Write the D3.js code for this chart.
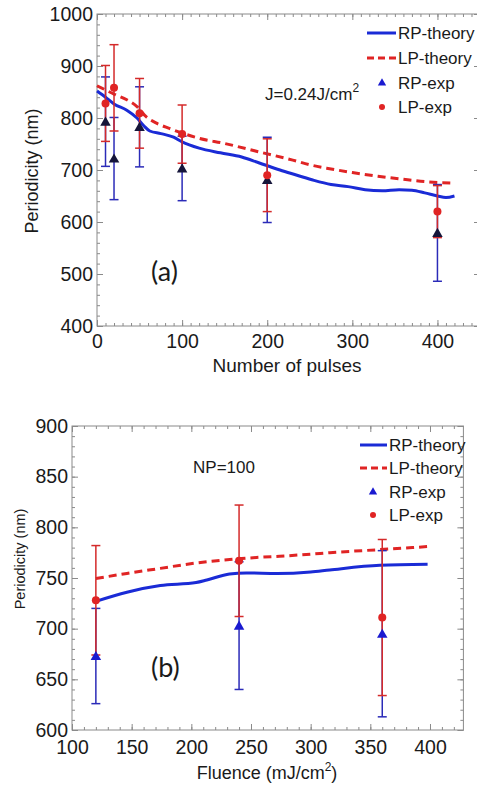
<!DOCTYPE html>
<html>
<head>
<meta charset="utf-8">
<script src="https://cdn.jsdelivr.net/npm/d3@7"></script>
<style>
  html, body { margin: 0; padding: 0; background: #fff; }
  svg { display: block; }
  text { font-family: "Liberation Sans", Arial, sans-serif; fill: #1a1a1a; }
</style>
</head>
<body>
<svg id="chart" width="477" height="786"></svg>
<script>
// ---------- Panel (a) data ----------
const aTickX = [0, 100, 200, 300, 400];
const aTickY = [400, 500, 600, 700, 800, 900, 1000];
const aRpTheoryX = [0, 10, 20, 35, 47, 55, 62, 75, 90, 100, 120, 145, 170, 190, 215, 235, 255, 275, 295, 315, 335, 355, 370, 385, 400, 410, 420];
const aRpTheoryY = [852, 840, 827, 815, 800, 785, 775, 770, 763, 754, 742, 733, 725, 714, 700, 690, 680, 672, 668, 662, 660, 662, 661, 656, 650, 647, 650];
const aLpTheoryX = [0, 10, 20, 35, 47, 58, 70, 85, 100, 120, 150, 190, 230, 250, 275, 300, 330, 360, 390, 420];
const aLpTheoryY = [862, 854, 846, 835, 822, 802, 790, 780, 771, 761, 751, 735, 719, 710, 702, 695, 688, 682, 677, 675];
const aPulses = [10, 20, 50, 100, 200, 400];
const aRpExp = [793, 722, 783, 703, 681, 579];
const aRpErr = [86, 79, 77, 62, 82, 93];
const aLpExp = [828, 858, 809, 769, 690, 620];
const aLpErr = [73, 83, 67, 56, 70, 50];

// ---------- Panel (b) data ----------
const bTickX = [100, 150, 200, 250, 300, 350, 400];
const bTickY = [600, 650, 700, 750, 800, 850, 900];
const bRpTheoryX = [120, 146, 174, 204, 213, 232, 246, 272, 300, 316, 358, 398];
const bRpTheoryY = [727, 736, 742.5, 745.5, 748, 754, 755, 754.5, 756, 758, 762.5, 763.5];
const bLpTheoryX = [120, 146, 174, 202, 230, 258, 274, 300, 316, 358, 398];
const bLpTheoryY = [749.5, 754.5, 759.5, 764.5, 768, 770.5, 771.5, 773.5, 775, 778, 781];
const bFluence = [120, 240, 360];
const bRpExp = [673, 703, 695];
const bRpErr = [47, 63, 82];
const bLpExp = [728, 767, 711];
const bLpErr = [54, 55, 77];

const legendLabels = ["RP-theory", "LP-theory", "RP-exp", "LP-exp"];

const BLUE = "#1a2bd6", RED = "#e02424", BLUE_BAR = "#2b2bb8", RED_BAR = "#d42a2a";
const AXIS = "#8a8a8a";

const svg = d3.select("#chart");

function panel(o) {
  const g = svg.append("g");
  const x = d3.scaleLinear().domain(o.xDomain).range(o.xRange);
  const y = d3.scaleLinear().domain(o.yDomain).range(o.yRange);
  const x0 = o.xRange[0], x1 = o.xRange[1], y0 = o.yRange[0], y1 = o.yRange[1];

  const style = sel => {
    sel.select(".domain").remove();
    sel.selectAll(".tick line").attr("stroke", AXIS).attr("stroke-width", 1);
    sel.selectAll(".tick text").style("font-size", o.tickFont + "px").attr("fill", "#1a1a1a");
  };
  const minorX = d3.range(o.xDomain[0], o.xDomain[1] + 0.001, o.xMinor);
  const minorY = d3.range(o.yDomain[0], o.yDomain[1] + 0.001, o.yMinor);

  // minor ticks
  g.append("g").attr("transform", `translate(0,${y0})`).call(d3.axisBottom(x).tickValues(minorX).tickSize(-3).tickFormat("")).call(style);
  g.append("g").attr("transform", `translate(0,${y1})`).call(d3.axisTop(x).tickValues(minorX).tickSize(-3).tickFormat("")).call(style);
  g.append("g").attr("transform", `translate(${x0},0)`).call(d3.axisLeft(y).tickValues(minorY).tickSize(-3).tickFormat("")).call(style);
  g.append("g").attr("transform", `translate(${x1},0)`).call(d3.axisRight(y).tickValues(minorY).tickSize(-3).tickFormat("")).call(style);
  // major ticks
  g.append("g").attr("transform", `translate(0,${y0})`).call(d3.axisBottom(x).tickValues(o.xTicks).tickSize(-6).tickPadding(o.xPad).tickFormat(d3.format("d"))).call(style);
  g.append("g").attr("transform", `translate(0,${y1})`).call(d3.axisTop(x).tickValues(o.xTicks).tickSize(-6).tickFormat("")).call(style);
  g.append("g").attr("transform", `translate(${x0},0)`).call(d3.axisLeft(y).tickValues(o.yTicks).tickSize(-6).tickPadding(4).tickFormat(d3.format("d"))).call(style);
  g.append("g").attr("transform", `translate(${x1},0)`).call(d3.axisRight(y).tickValues(o.yTicks).tickSize(-6).tickFormat("")).call(style);

  // frame
  g.append("rect").attr("x", x0).attr("y", y1).attr("width", x1 - x0).attr("height", y0 - y1)
    .attr("fill", "none").attr("stroke", AXIS).attr("stroke-width", 1);

  // theory lines
  const line = d3.line().curve(d3.curveMonotoneX);
  g.append("path").attr("d", line(o.rpX.map((d, i) => [x(d), y(o.rpY[i])])))
    .attr("fill", "none").attr("stroke", BLUE).attr("stroke-width", 3);
  g.append("path").attr("d", line(o.lpX.map((d, i) => [x(d), y(o.lpY[i])])))
    .attr("fill", "none").attr("stroke", RED).attr("stroke-width", 3).attr("stroke-dasharray", "8,5");

  // error bars
  function bars(vals, errs, color) {
    const eb = g.append("g").attr("stroke", color).attr("stroke-width", 1.5).attr("fill", "none");
    o.px.forEach((p, i) => {
      const cx = x(p), top = y(vals[i] + errs[i]), bot = y(vals[i] - errs[i]);
      eb.append("line").attr("x1", cx).attr("x2", cx).attr("y1", top).attr("y2", bot);
      eb.append("line").attr("x1", cx - 4.5).attr("x2", cx + 4.5).attr("y1", top).attr("y2", top);
      eb.append("line").attr("x1", cx - 4.5).attr("x2", cx + 4.5).attr("y1", bot).attr("y2", bot);
    });
  }
  bars(o.rpExp, o.rpErr, BLUE_BAR);
  bars(o.lpExp, o.lpErr, RED_BAR);

  const tri = d3.symbol().type(d3.symbolTriangle).size(48);
  g.append("g").selectAll("path").data(o.px).join("path")
    .attr("d", tri).attr("transform", (d, i) => `translate(${x(d)},${y(o.rpExp[i]) + 1})`)
    .attr("fill", o.triColor);
  g.append("g").selectAll("circle").data(o.px).join("circle")
    .attr("cx", d => x(d)).attr("cy", (d, i) => y(o.lpExp[i])).attr("r", 4)
    .attr("fill", RED);

  // legend
  const lg = g.append("g");
  legendLabels.forEach((lab, i) => {
    const ly = o.legY[i];
    if (i === 0) lg.append("line").attr("x1", o.legX0).attr("x2", o.legX1).attr("y1", ly).attr("y2", ly).attr("stroke", BLUE).attr("stroke-width", 3);
    if (i === 1) lg.append("line").attr("x1", o.legX0).attr("x2", o.legX1).attr("y1", ly).attr("y2", ly).attr("stroke", RED).attr("stroke-width", 3).attr("stroke-dasharray", "7,4");
    if (i === 2) lg.append("path").attr("d", d3.symbol().type(d3.symbolTriangle).size(30)()).attr("transform", `translate(${o.legMark},${ly})`).attr("fill", "#1a1ad0");
    if (i === 3) lg.append("circle").attr("cx", o.legMark).attr("cy", ly).attr("r", 3).attr("fill", RED);
    lg.append("text").attr("x", o.legX1 + 2).attr("y", ly).attr("dy", "0.36em").style("font-size", "17px").text(lab);
  });

  // y title
  g.append("text").attr("transform", `translate(${o.yTitleX},${o.yTitleY}) rotate(-90)`)
    .attr("text-anchor", "middle").attr("dy", "0.36em").style("font-size", o.yTitleFont + "px").text("Periodicity (nm)");

  // panel label
  g.append("text").attr("x", o.labX).attr("y", o.labY).attr("dy", "0.36em")
    .style("font-family", "Lato, 'Open Sans', sans-serif").style("font-size", "27px").attr("fill", "#111").text(o.label);
  return g;
}

// Panel (a)
const ga = panel({
  xDomain: [0, 450], xRange: [97, 480], yDomain: [400, 1000], yRange: [326, 14],
  xMinor: 10, yMinor: 20, xTicks: aTickX, yTicks: aTickY, tickFont: 19.5, xPad: 8,
  rpX: aRpTheoryX, rpY: aRpTheoryY, lpX: aLpTheoryX, lpY: aLpTheoryY,
  px: aPulses, rpExp: aRpExp, rpErr: aRpErr, lpExp: aLpExp, lpErr: aLpErr, triColor: "#15153a",
  legY: [33, 58, 83, 107], legX0: 367, legX1: 396, legMark: 382,
  yTitleX: 32, yTitleY: 171, yTitleFont: 18, label: "(a)", labX: 151, labY: 271
});
ga.append("text").attr("x", 287).attr("y", 365).attr("dy", "0.36em").attr("text-anchor", "middle")
  .style("font-size", "19px").text("Number of pulses");
const jt = ga.append("text").attr("x", 265).attr("y", 100).style("font-size", "17px");
jt.append("tspan").text("J=0.24J/cm");
jt.append("tspan").attr("dy", -8).style("font-size", "12px").text("2");

// Panel (b)
const gb = panel({
  xDomain: [100, 428], xRange: [72, 463.4], yDomain: [600, 900], yRange: [730, 426],
  xMinor: 10, yMinor: 10, xTicks: bTickX, yTicks: bTickY, tickFont: 19.5, xPad: 10,
  rpX: bRpTheoryX, rpY: bRpTheoryY, lpX: bLpTheoryX, lpY: bLpTheoryY,
  px: bFluence, rpExp: bRpExp, rpErr: bRpErr, lpExp: bLpExp, lpErr: bLpErr, triColor: "#1a1ad0",
  legY: [445, 468, 492, 515], legX0: 360, legX1: 387, legMark: 373,
  yTitleX: 20, yTitleY: 559, yTitleFont: 14.5, label: "(b)", labX: 151, labY: 667
});
gb.append("text").attr("x", 224).attr("y", 467).attr("dy", "0.36em").attr("text-anchor", "middle")
  .style("font-size", "17px").text("NP=100");
const ft = gb.append("text").attr("x", 267).attr("y", 779).attr("text-anchor", "middle").style("font-size", "18px");
ft.append("tspan").text("Fluence (mJ/cm");
ft.append("tspan").attr("dy", -8).style("font-size", "12px").text("2");
ft.append("tspan").attr("dy", 8).text(")");
</script>
</body>
</html>
